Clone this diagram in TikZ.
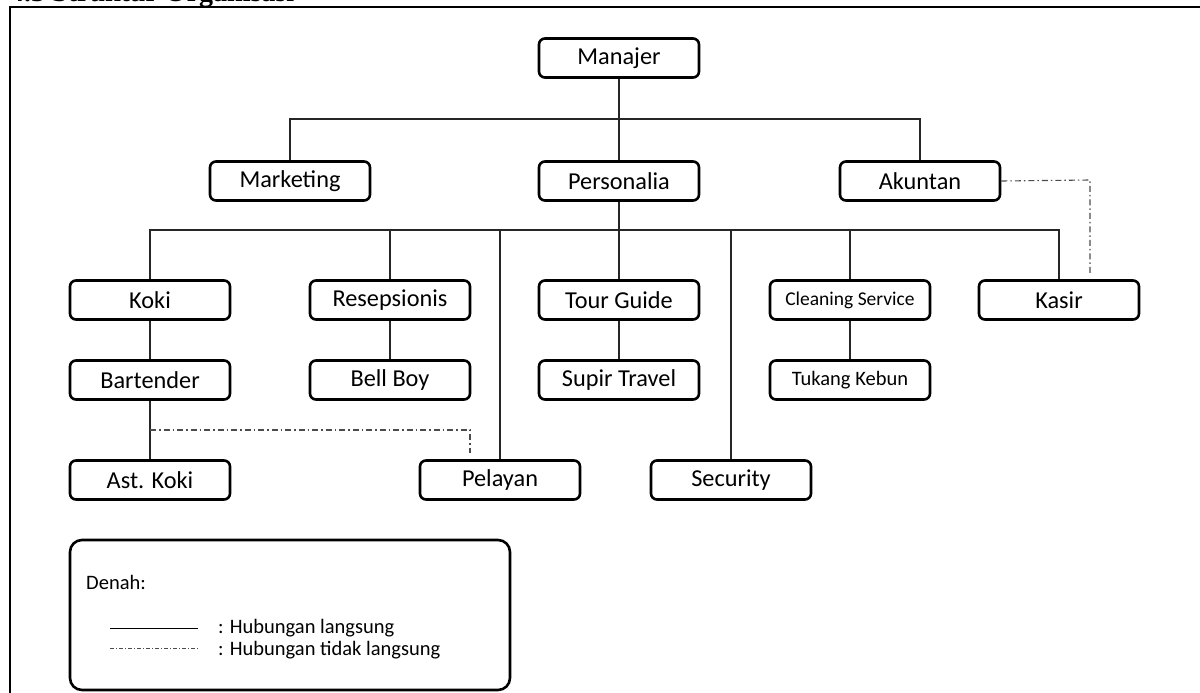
\documentclass[tikz,border=0pt]{standalone}
\usepackage{fontspec}
\setmainfont{Carlito}
\newfontfamily\titlefont{Liberation Serif}
\begin{document}
\begin{tikzpicture}[x=1pt,y=-1pt,
  box/.style={draw,rounded corners=6pt,line width=2.6pt,minimum width=160pt,minimum height=39pt,inner sep=0pt,font=\fontsize{24.3}{27}\selectfont},
  conn/.style={line width=1.1pt,draw=black!85},
  indirect/.style={line width=1.1pt,draw=black!70,dash pattern=on 6pt off 3pt on 1.5pt off 3pt},
  legtext/.style={anchor=west,inner sep=0pt,font=\fontsize{20.5}{23}\selectfont}]
\useasboundingbox (0,0) rectangle (1200,693);
\clip (0,0) rectangle (1200,693);
\node[anchor=base west,inner sep=0pt,font=\titlefont\bfseries\fontsize{28}{30}\selectfont] (title) at (10,2) {4.3 Struktur Organisasi};
\draw[line width=2.4pt] (10,700) -- (10,7) -- (1210,7);
% nodes
\node[box] (man) at (619,58) {Manajer};
\node[box] (mkt) at (290,181) {Marketing};
\node[box] (per) at (619,181) {Personalia};
\node[box] (aku) at (920,181) {Akuntan};
\node[box] (koki) at (150,300) {Koki};
\node[box] (res) at (390,300) {Resepsionis};
\node[box] (tour) at (619,300) {Tour Guide};
\node[box,font=\fontsize{19.5}{22}\selectfont] (clean) at (850,300) {Cleaning Service};
\node[box] (kasir) at (1059,300) {Kasir};
\node[box] (bart) at (150,380) {Bartender};
\node[box] (bell) at (390,380) {Bell Boy};
\node[box] (supir) at (619,380) {Supir Travel};
\node[box,font=\fontsize{20.5}{23}\selectfont] (tuk) at (850,380) {Tukang Kebun};
\node[box] (ast) at (150,480) {Ast. Koki};
\node[box] (pel) at (500,480) {Pelayan};
\node[box] (sec) at (731,480) {Security};
% bus coordinates
\coordinate (b1) at (0,119);
\coordinate (b2) at (0,230);
\coordinate (d1) at (470,430);
\coordinate (d2) at (1090,180);
% direct connectors
\draw[conn] (man.south) -- (per.north);
\draw[conn] (mkt.north) -- (mkt.north |- b1) -- (aku.north |- b1) -- (aku.north);
\draw[conn] (per.south) -- (per.south |- b2);
\draw[conn] (koki.north) -- (koki.north |- b2) -- (kasir.north |- b2) -- (kasir.north);
\draw[conn] (res.north) -- (res.north |- b2);
\draw[conn] (tour.north) -- (tour.north |- b2);
\draw[conn] (clean.north) -- (clean.north |- b2);
\draw[conn] (pel.north) -- (pel.north |- b2);
\draw[conn] (sec.north) -- (sec.north |- b2);
\draw[conn] (koki) -- (bart);
\draw[conn] (bart) -- (ast);
\draw[conn] (res) -- (bell);
\draw[conn] (tour) -- (supir);
\draw[conn] (clean) -- (tuk);
% indirect connectors
\draw[indirect,shorten >=6pt] (bart.south |- d1) -- (d1) -- (d1 |- pel.north);
\draw[indirect,shorten >=5pt] (aku.east) -- (d2) -- (d2 |- kasir.north);
% legend
\node[draw,rounded corners=12pt,line width=2.6pt,minimum width=440pt,minimum height=150pt] (leg) at (290,615) {};
\node[legtext] (denah) at (86,582) {Denah:};
\coordinate (l1a) at (110,628);
\coordinate (l1b) at (198,628);
\coordinate (l2a) at (110,648);
\coordinate (l2b) at (198,648);
\draw[line width=1pt] (l1a) -- (l1b);
\draw[line width=0.8pt,draw=black!70,dash pattern=on 4pt off 2pt on 1pt off 2pt] (l2a) -- (l2b);
\node[legtext] (t1) at (218,628) {: Hubungan langsung};
\node[legtext] (t2) at (218,650) {: Hubungan tidak langsung};
\end{tikzpicture}
\end{document}
